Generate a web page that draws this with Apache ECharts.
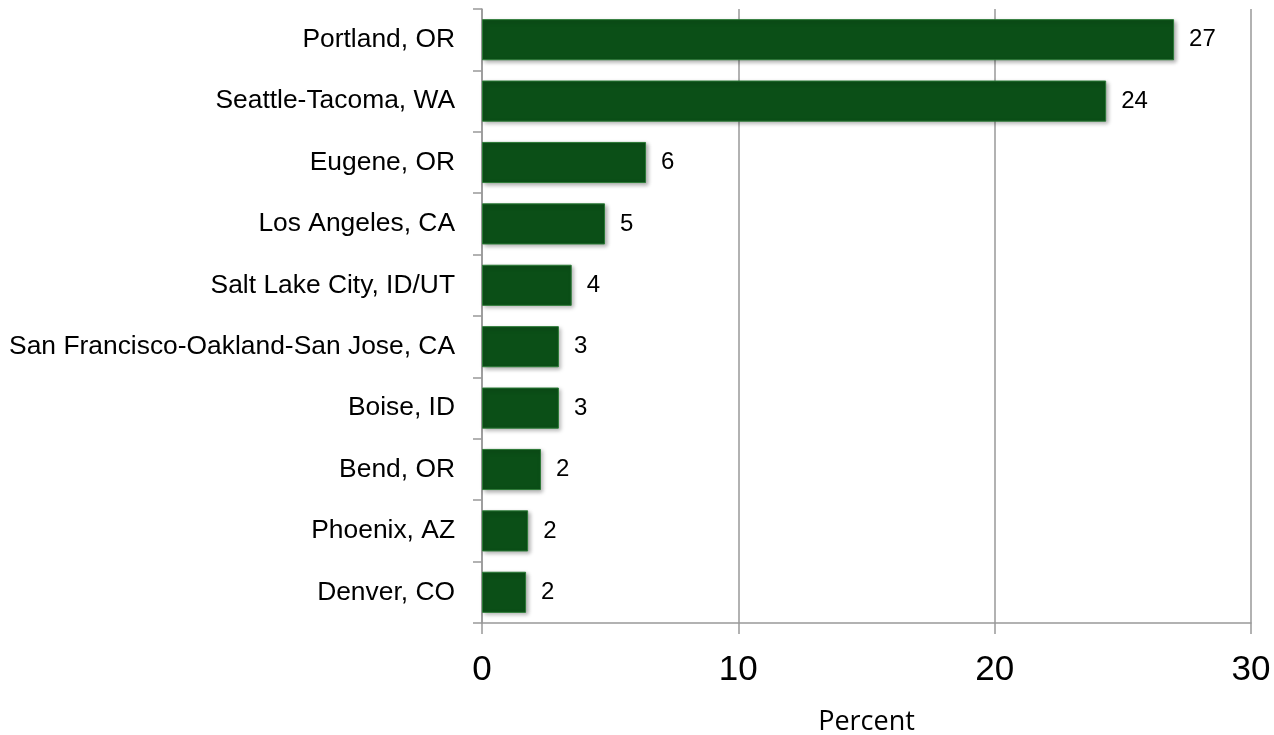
<!DOCTYPE html>
<html>
<head>
<meta charset="utf-8">
<script src="https://cdn.jsdelivr.net/npm/echarts@6/dist/echarts.min.js"></script>
<style>
  html, body { margin: 0; padding: 0; background: #fff; }
  #chart { width: 1274px; height: 735px; }
</style>
</head>
<body>
<div id="chart"></div>
<script>
const cities = [
  "Portland, OR",
  "Seattle-Tacoma, WA",
  "Eugene, OR",
  "Los Angeles, CA",
  "Salt Lake City, ID/UT",
  "San Francisco-Oakland-San Jose, CA",
  "Boise, ID",
  "Bend, OR",
  "Phoenix, AZ",
  "Denver, CO"
];
const percent = [27.0, 24.35, 6.4, 4.8, 3.5, 3.0, 3.0, 2.3, 1.8, 1.72];
const xTicks = [0, 10, 20, 30];

const chart = echarts.init(document.getElementById("chart"));

chart.setOption({
  animation: false,
  grid: {
    left: 482, right: 23, top: 9, bottom: 112,
    containLabel: false,
    outerBoundsMode: "none"
  },
  xAxis: {
    type: "value",
    min: xTicks[0],
    max: xTicks[xTicks.length - 1],
    interval: 10,
    name: "Percent",
    nameLocation: "middle",
    nameGap: 86,
    nameTextStyle: { fontFamily: "Open Sans", fontSize: 27, color: "#000" },
    axisLine: { show: true, lineStyle: { color: "#999", width: 1.5 } },
    axisTick: { show: true, length: 11, lineStyle: { color: "#999", width: 1.5 } },
    axisLabel: { fontFamily: "Liberation Sans", fontSize: 35, color: "#000", margin: 30 },
    splitLine: { show: true, lineStyle: { color: "#999", width: 1.5 } }
  },
  yAxis: {
    type: "category",
    data: cities,
    inverse: true,
    axisLine: { show: true, lineStyle: { color: "#999", width: 1.5 } },
    axisTick: { show: true, length: 9, lineStyle: { color: "#999", width: 1.5 } },
    axisLabel: {
      fontFamily: "Liberation Sans",
      fontSize: 26.4,
      color: "#000",
      margin: 27
    }
  },
  series: [{
    type: "bar",
    data: percent,
    barCategoryGap: "33%",
    itemStyle: {
      color: "#0b4f17",
      borderColor: "#2b7a36",
      borderWidth: 1,
      shadowColor: "rgba(0,0,0,0.3)",
      shadowBlur: 4,
      shadowOffsetX: 2,
      shadowOffsetY: 2
    },
    label: {
      show: true,
      position: "right",
      distance: 15,
      fontFamily: "Liberation Sans",
      fontSize: 24,
      color: "#000",
      formatter: p => Math.round(p.value)
    }
  }]
});
</script>
</body>
</html>
